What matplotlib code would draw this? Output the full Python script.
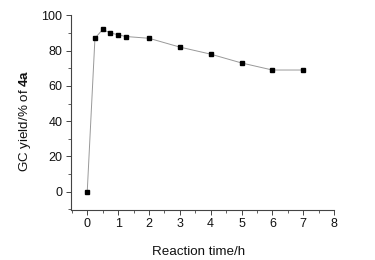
import matplotlib
matplotlib.use("Agg")
import matplotlib.pyplot as plt
from matplotlib.ticker import MultipleLocator

time_h = [0, 0.25, 0.5, 0.75, 1, 1.25, 2, 3, 4, 5, 6, 7]
gc_yield = [0, 87, 92, 90, 89, 88, 87, 82, 78, 73, 69, 69]

plt.rcParams['font.family'] = ['Liberation Sans', 'DejaVu Sans']
plt.rcParams['mathtext.fontset'] = 'custom'
plt.rcParams['mathtext.rm'] = 'Liberation Sans'
plt.rcParams['mathtext.bf'] = 'Liberation Sans:bold'

fig = plt.figure(figsize=(3.75, 2.6), dpi=100)
ax = fig.add_axes([0.189, 0.192, 0.702, 0.749])

ax.plot(time_h, gc_yield, color="#999999", lw=0.7, zorder=1)
ax.plot(time_h, gc_yield, ls="none", marker="s", ms=2.7, color="black", zorder=2)

ax.set_xlim(-0.53, 8)
ax.set_ylim(-10.4, 100)
ax.xaxis.set_major_locator(MultipleLocator(1))
ax.xaxis.set_minor_locator(MultipleLocator(0.5))
ax.yaxis.set_major_locator(MultipleLocator(20))
ax.yaxis.set_minor_locator(MultipleLocator(10))

for s in ["top", "right"]:
    ax.spines[s].set_visible(False)
for s in ["left", "bottom"]:
    ax.spines[s].set_color("#444444")
    ax.spines[s].set_linewidth(0.8)

ax.tick_params(which="major", direction="out", length=3.5, width=0.7, color="#444444",
               labelsize=9, pad=2.5, labelcolor="#111111")
ax.tick_params(which="minor", direction="out", length=2, width=0.6, color="#444444")

ax.set_xlabel("Reaction time/h", fontsize=9.6, color="#111111")
ax.set_ylabel(r"GC yield/% of $\mathbf{4a}$", fontsize=9.6, color="#111111")
ax.xaxis.set_label_coords(0.485, -0.182)
ax.yaxis.set_label_coords(-0.145, 0.46)

fig.savefig("out.png", dpi=100)
